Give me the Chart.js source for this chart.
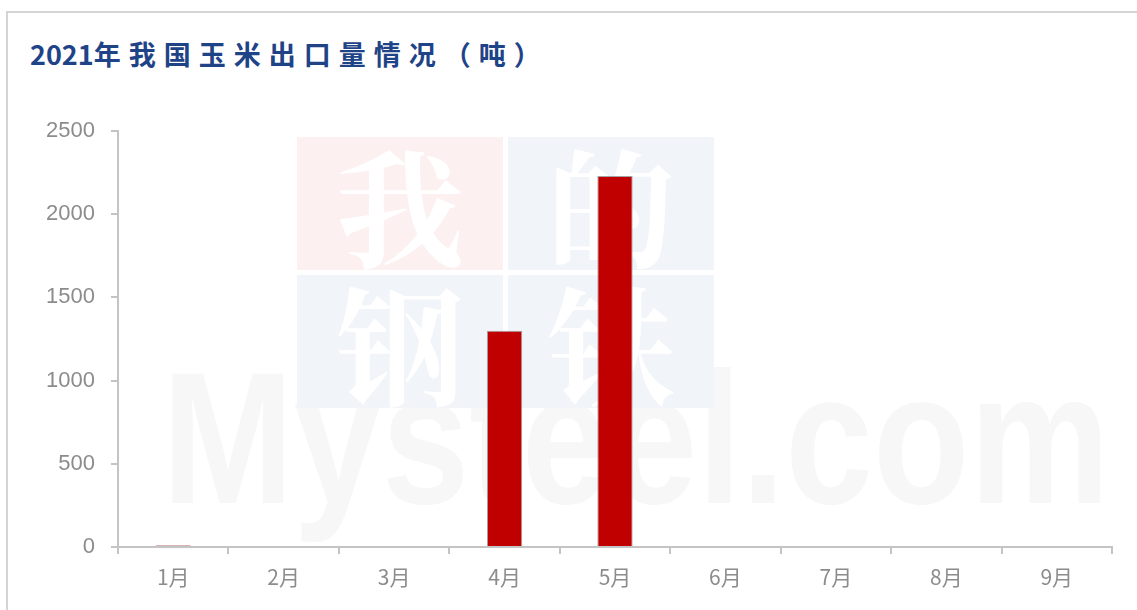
<!DOCTYPE html>
<html>
<head>
<meta charset="utf-8">
<script src="https://cdn.jsdelivr.net/npm/chart.js@4"></script>
<style>
  html, body { margin: 0; padding: 0; background: #fff; }
  #wrap { position: relative; width: 1137px; height: 610px; overflow: hidden; }
  #frame { position: absolute; left: 6px; top: 11px; right: -4px; bottom: -4px;
           border-left: 2px solid #d4d4d4; border-top: 2px solid #d4d4d4; }
  #title { position: absolute; left: 30px; top: 34px; font-family: "Noto Sans CJK SC", "Liberation Sans", sans-serif;
           font-weight: bold; font-size: 27px; color: #1f4387; white-space: nowrap; }
  #title .cjk { letter-spacing: 8px; }
  .wm-box { position: absolute; width: 206px; height: 133px; color: #fff; font-family: "Noto Serif CJK SC", "Noto Sans CJK SC", serif;
            font-size: 128px; font-weight: bold; line-height: 133px; text-align: center; overflow: hidden; }
  #wm-text { position: absolute; left: 162px; top: 330px; font-family: "Liberation Sans", Arial, sans-serif; font-weight: bold;
             font-size: 188px; color: #f7f7f7; white-space: nowrap; transform-origin: 0 0; transform: scaleX(0.84); }
  canvas { position: absolute; left: 0; top: 0; }
</style>
</head>
<body>
<div id="wrap">
  <div id="frame"></div>
  <div id="wm-text">Mysteel.com</div>
  <div class="wm-box" style="left:297px;top:137px;background:#fcf0f0;">我</div>
  <div class="wm-box" style="left:508px;top:137px;background:#f1f4f8;">的</div>
  <div class="wm-box" style="left:297px;top:275px;background:#f1f4f8;">钢</div>
  <div class="wm-box" style="left:508px;top:275px;background:#f1f4f8;">铁</div>
  <div id="title">2021<span class="cjk">年我国玉米出口量情况（吨）</span></div>
  <canvas id="chart" width="1137" height="610"></canvas>
</div>
<script>
const months = ['1月', '2月', '3月', '4月', '5月', '6月', '7月', '8月', '9月'];
const exports2021 = [10, 0, 0, 1300, 2230, 0, 0, 0, 0];
const yTicks = [0, 500, 1000, 1500, 2000, 2500];

const axisColor = '#c4c4c4';
const tickColor = '#8c8c8c';

new Chart(document.getElementById('chart').getContext('2d'), {
  type: 'bar',
  data: {
    labels: months,
    datasets: [{
      data: exports2021,
      backgroundColor: '#c00000',
      borderColor: 'rgba(140,140,140,0.8)',
      borderWidth: 1,
      barPercentage: 0.32,
      categoryPercentage: 1,
    }],
  },
  options: {
    responsive: false,
    animation: false,
    layout: { padding: { top: 131, right: 25, bottom: 0, left: 0 } },
    plugins: {
      legend: { display: false },
      tooltip: { enabled: false },
    },
    scales: {
      x: {
        offset: true,
        grid: { offset: true, drawOnChartArea: false, tickLength: 7, color: axisColor, lineWidth: 2 },
        border: { color: axisColor, width: 2 },
        ticks: { color: tickColor, font: { family: 'Noto Sans CJK SC', size: 21 }, padding: 10 },
        afterFit: s => { s.height = 63; },
      },
      y: {
        min: 0,
        max: 2500,
        afterBuildTicks: s => { s.ticks = yTicks.map(v => ({ value: v })); },
        grid: { drawOnChartArea: false, tickLength: 7, color: axisColor, lineWidth: 2 },
        border: { color: axisColor, width: 2 },
        ticks: { color: tickColor, font: { family: 'Liberation Sans', size: 22 }, padding: 16,
                 callback: v => String(v) },
        afterFit: s => { s.width = 118; },
      },
    },
  },
});
</script>
</body>
</html>
